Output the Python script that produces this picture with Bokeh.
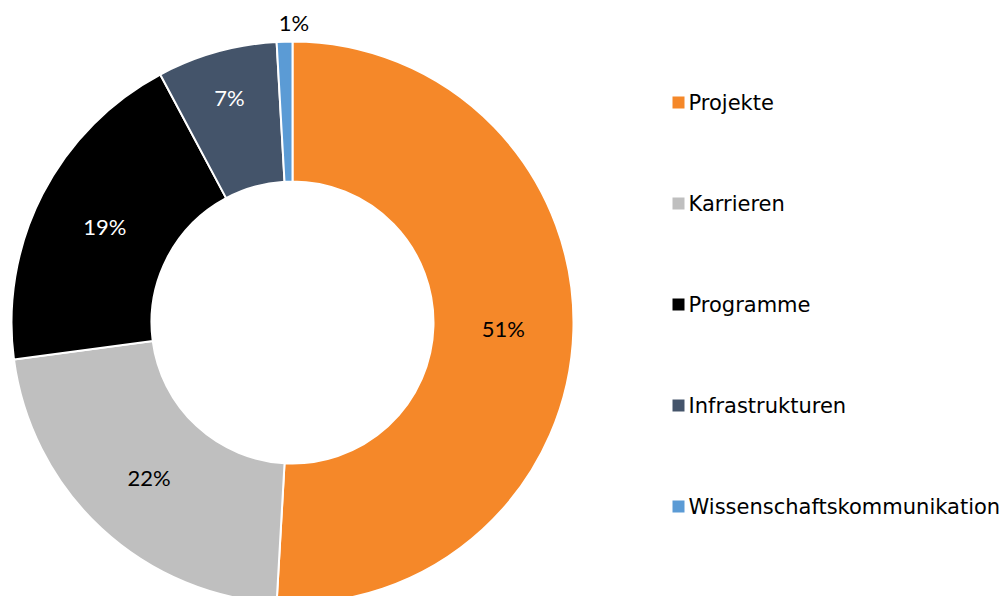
import math
from bokeh.plotting import figure
from bokeh.models import Range1d, ColumnDataSource
from bokeh.core.properties import value
from bokeh.embed import file_html
from bokeh.resources import INLINE

# ---- data ----
categories = ["Projekte", "Karrieren", "Programme", "Infrastrukturen", "Wissenschaftskommunikation"]
shares = [50.9, 22.0, 19.3, 6.9, 0.9]
colors = ["#F58829", "#BFBFBF", "#000000", "#44546A", "#5B9BD5"]
label_colors = ["#000000", "#000000", "#FFFFFF", "#FFFFFF", "#000000"]

# ---- layout (screen-like pixel coordinates, y flipped) ----
W, H = 1000, 596
def sy(y):  # screen y -> data y
    return H - y

cx, cy = 292, sy(322)
r_out, r_in = 281, 141
label_r = [211, 211, 211, 234, 300]

total = sum(shares)
starts, ends, lx, ly, texts = [], [], [], [], []
acc = 0.0
for i, s in enumerate(shares):
    a0 = acc / total * 2 * math.pi
    acc += s
    a1 = acc / total * 2 * math.pi
    starts.append(math.pi / 2 - a0)
    ends.append(math.pi / 2 - a1)
    mid = (a0 + a1) / 2
    lx.append(cx + label_r[i] * math.sin(mid))
    ly.append(cy + label_r[i] * math.cos(mid))
    texts.append(f"{round(s)}%")
lx[4] += 10

p = figure(width=W, height=H, output_backend="svg", toolbar_location=None,
           x_range=Range1d(0, W), y_range=Range1d(0, H),
           min_border=0, outline_line_color=None)
p.axis.visible = False
p.grid.visible = False
p.background_fill_color = "white"
p.border_fill_color = "white"

src = ColumnDataSource(dict(start=starts, end=ends, color=colors))
p.annular_wedge(x=cx, y=cy, inner_radius=r_in, outer_radius=r_out,
                start_angle="start", end_angle="end", direction="clock",
                fill_color="color", line_color="white", line_width=2, source=src)

lsrc = ColumnDataSource(dict(x=lx, y=ly, t=texts, c=label_colors))
p.text(x="x", y="y", text="t", text_color="c", source=lsrc,
       text_font=value("Lato"), text_font_size="22px",
       text_align="center", text_baseline="middle")

# legend
leg_y = [sy(102 + 101 * i) for i in range(len(categories))]
p.scatter(x=[678] * len(categories), y=leg_y, marker="square", size=12,
          fill_color=colors, line_color=None)
p.text(x=[688] * len(categories), y=leg_y, text=categories, text_color="#000000",
       text_font=value("DejaVu Sans"), text_font_size="21px",
       text_align="left", text_baseline="middle")

open("out.html", "w").write(file_html(p, INLINE))
